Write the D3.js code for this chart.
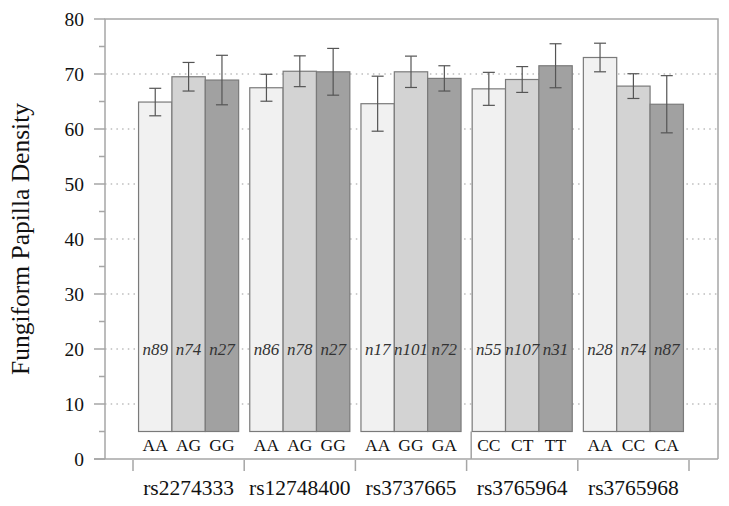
<!DOCTYPE html>
<html>
<head>
<meta charset="utf-8">
<script src="https://cdn.jsdelivr.net/npm/d3@7"></script>
<style>
  body { margin: 0; background: #fff; }
  svg { font-family: "Liberation Serif", "Times New Roman", serif; }
</style>
</head>
<body>
<div id="chart"></div>
<script>
// data
const snps = ['rs2274333', 'rs12748400', 'rs3737665', 'rs3765964', 'rs3765968'];
const genotypes = [
    ['AA', 'AG', 'GG'],
    ['AA', 'AG', 'GG'],
    ['AA', 'GG', 'GA'],
    ['CC', 'CT', 'TT'],
    ['AA', 'CC', 'CA']
];
const means = [
    [64.9, 69.5, 68.9],
    [67.5, 70.5, 70.4],
    [64.6, 70.4, 69.2],
    [67.3, 69.0, 71.5],
    [73.0, 67.8, 64.5]
];
const errors = [
    [2.5, 2.6, 4.5],
    [2.45, 2.8, 4.25],
    [5.0, 2.85, 2.3],
    [3.0, 2.35, 4.0],
    [2.6, 2.25, 5.2]
];
const counts = [
    [89, 74, 27],
    [86, 78, 27],
    [17, 101, 72],
    [55, 107, 31],
    [28, 74, 87]
];
const majorTicks = [0, 10, 20, 30, 40, 50, 60, 70, 80];
const minorTicks = [5, 15, 25, 35, 45, 55, 65, 75];
const gridValues = [10, 20, 30, 40, 50, 60, 70];
const barBase = 5;      // bars start above the genotype labels
const nLabelValue = 20; // where the n labels sit

const fills = ['#f1f1f1', '#d3d3d3', '#a1a1a1'];

const WIDTH = 729, HEIGHT = 506;
const plot = { left: 105, right: 718, top: 19, bottom: 459 };

const svg = d3.select('#chart').append('svg')
    .attr('width', WIDTH)
    .attr('height', HEIGHT);

const y = d3.scaleLinear().domain([0, 80]).range([plot.bottom, plot.top]);

const x0 = d3.scaleBand()
    .domain(snps)
    .range([133, 689])
    .paddingInner(0.1)
    .paddingOuter(0.05);

const x1 = d3.scaleBand()
    .domain([0, 1, 2])
    .range([0, x0.bandwidth()]);

// dotted grid
svg.append('g')
    .selectAll('line')
    .data(gridValues)
    .join('line')
    .attr('x1', plot.left)
    .attr('x2', plot.right)
    .attr('y1', d => y(d))
    .attr('y2', d => y(d))
    .style('stroke', '#bdbdbd')
    .style('stroke-width', 1.3)
    .style('stroke-dasharray', '1.5,4.2');

// rows of bars, one group per snp
const rows = snps.map((s, i) => genotypes[i].map((g, j) => ({
    snp: s, idx: j, geno: g, mean: means[i][j], err: errors[i][j], n: counts[i][j]
})));

const groups = svg.append('g')
    .selectAll('g')
    .data(rows)
    .join('g')
    .attr('transform', (d, i) => `translate(${x0(snps[i])},0)`);

groups.selectAll('rect')
    .data(d => d)
    .join('rect')
    .attr('x', d => x1(d.idx))
    .attr('y', d => y(d.mean))
    .attr('width', x1.bandwidth())
    .attr('height', d => y(barBase) - y(d.mean))
    .style('fill', d => fills[d.idx])
    .style('stroke', '#7a7a7a')
    .style('stroke-width', 1.2);

// error bars
const eb = groups.selectAll('g.err')
    .data(d => d)
    .join('g')
    .attr('class', 'err')
    .attr('transform', d => `translate(${x1(d.idx) + x1.bandwidth() / 2},0)`);

eb.append('line')
    .attr('y1', d => y(d.mean + d.err))
    .attr('y2', d => y(d.mean - d.err));
eb.append('line')
    .attr('x1', -6).attr('x2', 6)
    .attr('y1', d => y(d.mean + d.err))
    .attr('y2', d => y(d.mean + d.err));
eb.append('line')
    .attr('x1', -6).attr('x2', 6)
    .attr('y1', d => y(d.mean - d.err))
    .attr('y2', d => y(d.mean - d.err));
eb.selectAll('line')
    .style('stroke', '#555')
    .style('stroke-width', 1.2);

// n labels
groups.selectAll('text.n')
    .data(d => d)
    .join('text')
    .attr('class', 'n')
    .attr('x', d => x1(d.idx) + x1.bandwidth() / 2)
    .attr('y', y(nLabelValue))
    .attr('dy', '0.35em')
    .style('text-anchor', 'middle')
    .style('font-style', 'italic')
    .style('font-size', '17px')
    .style('fill', '#333')
    .text(d => 'n' + d.n);

// genotype labels
groups.selectAll('text.geno')
    .data(d => d)
    .join('text')
    .attr('class', 'geno')
    .attr('x', d => x1(d.idx) + x1.bandwidth() / 2)
    .attr('y', y(barBase / 2))
    .attr('dy', '0.35em')
    .style('text-anchor', 'middle')
    .style('font-size', '17.5px')
    .style('fill', '#111')
    .text(d => d.geno);

// small line left of rs3765964 running down to the axis
svg.append('line')
    .attr('x1', x0(snps[3]) - 1)
    .attr('x2', x0(snps[3]) - 1)
    .attr('y1', y(barBase))
    .attr('y2', y(0))
    .style('stroke', '#8a8a8a')
    .style('stroke-width', 1.2);

// frame
const frameColor = '#a6a6a6';
svg.append('path')
    .attr('d', `M${plot.left},${plot.bottom}V${plot.top}H${plot.right}V${plot.bottom}`)
    .style('fill', 'none')
    .style('stroke', frameColor)
    .style('stroke-width', 1.5);

svg.append('line')
    .attr('x1', plot.left - 11)
    .attr('x2', plot.right)
    .attr('y1', plot.bottom)
    .attr('y2', plot.bottom)
    .style('stroke', frameColor)
    .style('stroke-width', 1.5);

// y ticks
svg.append('g')
    .selectAll('line')
    .data(majorTicks)
    .join('line')
    .attr('x1', plot.left - 11)
    .attr('x2', plot.left)
    .attr('y1', d => y(d))
    .attr('y2', d => y(d))
    .style('stroke', frameColor)
    .style('stroke-width', 1.5);

svg.append('g')
    .selectAll('line')
    .data(minorTicks)
    .join('line')
    .attr('x1', plot.left - 6)
    .attr('x2', plot.left)
    .attr('y1', d => y(d))
    .attr('y2', d => y(d))
    .style('stroke', frameColor)
    .style('stroke-width', 1.5);

svg.append('g')
    .selectAll('text')
    .data(majorTicks)
    .join('text')
    .attr('x', 84)
    .attr('y', d => y(d))
    .attr('dy', '0.35em')
    .style('text-anchor', 'end')
    .style('font-size', '19.5px')
    .style('fill', '#111')
    .text(d => d);

// separator ticks under the axis
const step = x0.step();
const sepX = snps.map(s => x0(s) - (step - x0.bandwidth()) / 2);
sepX.push(sepX[sepX.length - 1] + step);

svg.append('g')
    .selectAll('line')
    .data(sepX)
    .join('line')
    .attr('x1', d => d)
    .attr('x2', d => d)
    .attr('y1', plot.bottom + 1)
    .attr('y2', plot.bottom + 12)
    .style('stroke', frameColor)
    .style('stroke-width', 1.5);

// snp labels
svg.append('g')
    .selectAll('text')
    .data(snps)
    .join('text')
    .attr('x', d => x0(d) + x0.bandwidth() / 2)
    .attr('y', 495)
    .style('text-anchor', 'middle')
    .style('font-size', '21.5px')
    .style('fill', '#111')
    .text(d => d);

// y title
svg.append('text')
    .attr('transform', `translate(29,${(plot.top + plot.bottom) / 2}) rotate(-90)`)
    .style('text-anchor', 'middle')
    .style('font-size', '25.5px')
    .style('fill', '#111')
    .text('Fungiform Papilla Density');
</script>
</body>
</html>
